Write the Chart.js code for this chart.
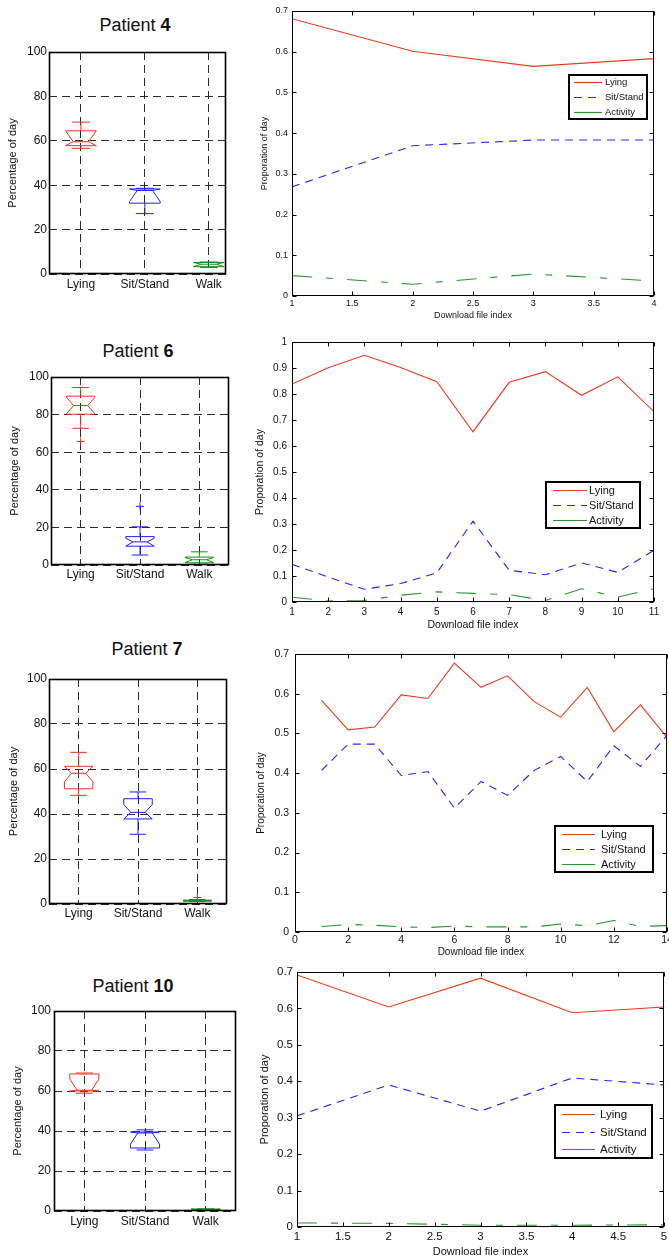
<!DOCTYPE html>
<html><head><meta charset="utf-8">
<script src="https://cdn.jsdelivr.net/npm/chart.js@4.4.1/dist/chart.umd.min.js"></script>
<style>
html,body{margin:0;padding:0;background:#fff;}
body{width:669px;height:1260px;position:relative;overflow:hidden;font-family:'Liberation Sans',Arial,sans-serif;}
canvas{position:absolute;}
.ttl{position:absolute;width:200px;text-align:center;font-size:18px;line-height:22px;color:#111;}
</style></head><body>
<div class="ttl" style="left:35px;top:14px">Patient <b>4</b></div>
<div class="ttl" style="left:38px;top:340px">Patient <b>6</b></div>
<div class="ttl" style="left:47px;top:638px">Patient <b>7</b></div>
<div class="ttl" style="left:33px;top:975px">Patient <b>10</b></div>
<script>
// ---------------- DATA ----------------
const categories = ['Lying', 'Sit/Stand', 'Walk'];
const seriesNames = ['Lying', 'Sit/Stand', 'Activity'];
const boxYTicks = [0, 20, 40, 60, 80, 100];

// Patient 4 (download files 1..4), proportion of day
const p4Files = [1, 2, 3, 4];
const p4Lying = [0.681, 0.601, 0.564, 0.583];
const p4Sit = [0.268, 0.369, 0.383, 0.383];
const p4Activity = [0.050, 0.029, 0.054, 0.037];
const p4XTicks = [1, 1.5, 2, 2.5, 3, 3.5, 4];
const p4YTicks = [0, 0.1, 0.2, 0.3, 0.4, 0.5, 0.6, 0.7];
// box stats (% of day): [whiskerLow, q1, notchLow, median, notchHigh, q3, whiskerHigh]
const p4BoxLying = [56.6, 57.8, 57.8, 59.6, 64.5, 64.5, 68.4];
const p4BoxSit = [27.2, 31.9, 32.6, 37.6, 38.3, 38.3, 38.6];
const p4BoxWalk = [2.9, 3.3, 3.3, 4.4, 5.2, 5.2, 5.4];
const p4Outliers = [[], [], []];

// Patient 6 (files 1..11)
const p6Files = [1, 2, 3, 4, 5, 6, 7, 8, 9, 10, 11];
const p6Lying = [0.838, 0.901, 0.949, 0.902, 0.847, 0.655, 0.845, 0.886, 0.795, 0.866, 0.732];
const p6Sit = [0.145, 0.096, 0.049, 0.071, 0.112, 0.311, 0.122, 0.105, 0.150, 0.114, 0.199];
const p6Activity = [0.018, 0.004, 0.006, 0.026, 0.039, 0.033, 0.028, 0.006, 0.051, 0.019, 0.051];
const p6XTicks = [1, 2, 3, 4, 5, 6, 7, 8, 9, 10, 11];
const p6YTicks = [0, 0.1, 0.2, 0.3, 0.4, 0.5, 0.6, 0.7, 0.8, 0.9, 1];
const p6BoxLying = [72.7, 80.2, 80.4, 84.8, 89.2, 89.8, 94.4];
const p6BoxSit = [5.3, 10.0, 10.0, 12.3, 14.2, 15.1, 20.3];
const p6BoxWalk = [0.4, 1.2, 1.3, 2.8, 4.0, 4.2, 7.0];
const p6Outliers = [[65.7], [31.2], []];

// Patient 7 (files 1..14)
const p7Files = [1, 2, 3, 4, 5, 6, 7, 8, 9, 10, 11, 12, 13, 14];
const p7Lying = [0.583, 0.509, 0.516, 0.597, 0.588, 0.677, 0.616, 0.645, 0.580, 0.541, 0.616, 0.504, 0.572, 0.490];
const p7Sit = [0.407, 0.473, 0.473, 0.394, 0.404, 0.312, 0.379, 0.344, 0.407, 0.442, 0.379, 0.469, 0.417, 0.495];
const p7Activity = [0.014, 0.019, 0.017, 0.013, 0.011, 0.015, 0.013, 0.013, 0.013, 0.020, 0.016, 0.029, 0.014, 0.016];
const p7XTicks = [0, 2, 4, 6, 8, 10, 12, 14];
const p7YTicks = [0, 0.1, 0.2, 0.3, 0.4, 0.5, 0.6, 0.7];
const p7BoxLying = [48.3, 51.2, 54.3, 58.1, 61.2, 61.2, 67.4];
const p7BoxSit = [31.0, 37.8, 37.8, 40.7, 44.2, 46.8, 49.8];
const p7BoxWalk = [1.1, 1.3, 1.3, 1.5, 1.65, 1.7, 2.0];
const p7Outliers = [[], [], [2.9]];

// Patient 10 (files 1..5)
const p10Files = [1, 2, 3, 4, 5];
const p10Lying = [0.692, 0.604, 0.683, 0.588, 0.604];
const p10Sit = [0.305, 0.390, 0.318, 0.409, 0.390];
const p10Activity = [0.011, 0.010, 0.005, 0.005, 0.006];
const p10XTicks = [1, 1.5, 2, 2.5, 3, 3.5, 4, 4.5, 5];
const p10YTicks = [0, 0.1, 0.2, 0.3, 0.4, 0.5, 0.6, 0.7];
const p10BoxLying = [58.9, 60.0, 60.0, 60.4, 66.0, 68.5, 69.0];
const p10BoxSit = [30.5, 31.5, 33.4, 39.0, 39.5, 39.5, 40.6];
const p10BoxWalk = [0.5, 0.5, 0.5, 0.6, 1.0, 1.0, 1.1];
const p10Outliers = [[], [], []];

// ---------------- STYLES ----------------
const FONT = "'Liberation Sans', Arial, sans-serif";
Chart.defaults.font.family = FONT;
const TXT = '#111';
const RED = '#ea3b1f', BLUE = '#2626ff', GREEN = '#2a962a';
const BOX_COLORS = ['#e8321e', '#1f1fff', '#1a8c1a'];
const LINE_STYLES = [
  {color: RED, dash: [], legendDash: []},
  {color: BLUE, dash: [8, 6], legendDash: [8, 6]},
  {color: GREEN, dash: [20, 14, 7, 14], legendDash: []}
];

// ---------------- PLUGINS ----------------
const framePlugin = {
  id: 'frame',
  afterDatasetsDraw(chart, args, o) {
    const ctx = chart.ctx, a = chart.chartArea;
    ctx.save();
    if (o.boxes) {
      ctx.beginPath(); ctx.rect(a.left, a.top, a.right - a.left, a.bottom - a.top); ctx.clip();
      const xs = chart.scales.x, ys = chart.scales.y;
      const X = v => xs.getPixelForValue(v), Y = v => ys.getPixelForValue(v);
      o.boxes.forEach((b, i) => {
        const [wl, q1, nl, md, nh, q3, wh] = b;
        const c = i + 1, hw = o.halfWidth, nw = hw * o.notch, cw = o.capHalf;
        const L = X(c - hw), R = X(c + hw), Ln = X(c - nw), Rn = X(c + nw), cx = X(c);
        ctx.strokeStyle = BOX_COLORS[i]; ctx.lineWidth = 1; ctx.setLineDash([]);
        ctx.beginPath();
        ctx.moveTo(L, Y(q1)); ctx.lineTo(L, Y(nl)); ctx.lineTo(Ln, Y(md)); ctx.lineTo(L, Y(nh)); ctx.lineTo(L, Y(q3));
        ctx.lineTo(R, Y(q3)); ctx.lineTo(R, Y(nh)); ctx.lineTo(Rn, Y(md)); ctx.lineTo(R, Y(nl)); ctx.lineTo(R, Y(q1));
        ctx.closePath(); ctx.stroke();
        ctx.beginPath();
        ctx.moveTo(Ln, Y(md)); ctx.lineTo(Rn, Y(md));
        ctx.moveTo(cx, Y(q3)); ctx.lineTo(cx, Y(wh));
        ctx.moveTo(cx, Y(q1)); ctx.lineTo(cx, Y(wl));
        ctx.moveTo(X(c - cw), Y(wh)); ctx.lineTo(X(c + cw), Y(wh));
        ctx.moveTo(X(c - cw), Y(wl)); ctx.lineTo(X(c + cw), Y(wl));
        ctx.stroke();
      });
    }
    ctx.restore();
  },
  afterDraw(chart, args, o) {
    const ctx = chart.ctx, a = chart.chartArea;
    ctx.save();
    ctx.strokeStyle = '#000'; ctx.lineWidth = o.frameWidth || 1; ctx.setLineDash([]);
    const L = Math.round(a.left) + 0.5, R = Math.round(a.right) - 0.5, T = Math.round(a.top) + 0.5, B = Math.round(a.bottom) - 0.5;
    ctx.strokeRect(L, T, R - L, B - T);
    if (o.tickLen) {
      ctx.lineWidth = 1;
      const tl = o.tickLen, xs = chart.scales.x, ys = chart.scales.y;
      ctx.beginPath();
      xs.ticks.forEach(t => {
        const p = Math.round(xs.getPixelForValue(t.value)) + 0.5;
        ctx.moveTo(p, B); ctx.lineTo(p, B - tl); ctx.moveTo(p, T); ctx.lineTo(p, T + tl);
      });
      ys.ticks.forEach(t => {
        const p = Math.round(ys.getPixelForValue(t.value)) + 0.5;
        ctx.moveTo(L, p); ctx.lineTo(L + tl, p); ctx.moveTo(R, p); ctx.lineTo(R - tl, p);
      });
      ctx.stroke();
    }
    if (o.legend) {
      const g = o.legend;
      ctx.fillStyle = '#fff';
      ctx.fillRect(g.x, g.y, g.w, g.h);
      ctx.strokeStyle = '#000'; ctx.lineWidth = 2;
      ctx.strokeRect(Math.round(g.x), Math.round(g.y), g.w, g.h);
      ctx.font = g.font + 'px ' + FONT;
      ctx.textBaseline = 'middle'; ctx.textAlign = 'left';
      seriesNames.forEach((name, i) => {
        const yy = Math.round(g.y + (i + 0.5) * g.h / 3) + 0.5;
        ctx.strokeStyle = LINE_STYLES[i].color; ctx.lineWidth = 1.2; ctx.setLineDash(LINE_STYLES[i].legendDash);
        ctx.beginPath(); ctx.moveTo(g.x + g.s0, yy); ctx.lineTo(g.x + g.s1, yy); ctx.stroke();
        ctx.setLineDash([]);
        ctx.fillStyle = TXT; ctx.fillText(name, g.x + g.tx, yy);
      });
    }
    ctx.restore();
  }
};

// ---------------- BUILDERS ----------------
function makeCanvas(c) {
  const el = document.createElement('canvas');
  el.width = c.w; el.height = c.h;
  el.style.left = c.x + 'px'; el.style.top = c.y + 'px';
  el.style.width = c.w + 'px'; el.style.height = c.h + 'px';
  document.body.appendChild(el);
  return el;
}
const fmt = v => String(+(+v).toFixed(2));

function baseScales(g, xTicks, yTicks, xMin, xMax, yMin, yMax, xLabelCb, grid) {
  const yW = g.area.l - g.canvas.x;
  const xH = g.canvas.y + g.canvas.h - g.area.b;
  const yTitlePad = g.yTitleX - g.canvas.x - g.yTitleFont * 1.2 / 2;
  const xTickPad = g.xTickY - g.area.b - g.tickFont * 1.2 / 2;
  const gridOpt = grid
    ? {display: true, color: '#2a2a2a', lineWidth: 1, drawTicks: false}
    : {display: false, drawTicks: false};
  const borderOpt = grid ? {display: false, dash: [8, 5]} : {display: false};
  const x = {
    type: 'linear', min: xMin, max: xMax,
    afterBuildTicks: s => { s.ticks = xTicks.map(v => ({value: v})); },
    afterFit: s => { s.height = xH; s.paddingLeft = 0; s.paddingRight = 0; s.paddingTop = 0; s.paddingBottom = 0; },
    ticks: {font: {size: g.tickFont}, color: TXT, padding: xTickPad, maxRotation: 0, autoSkip: false, callback: xLabelCb},
    grid: gridOpt, border: borderOpt,
    title: {display: false}
  };
  if (g.xTitle) {
    const xTitlePad = g.canvas.y + g.canvas.h - g.xTitleY - g.xTitleFont * 1.2 / 2;
    x.title = {display: true, text: g.xTitle, color: TXT, font: {size: g.xTitleFont}, padding: {top: 0, bottom: xTitlePad}};
  }
  const y = {
    type: 'linear', min: yMin, max: yMax,
    afterBuildTicks: s => { s.ticks = yTicks.map(v => ({value: v})); },
    afterFit: s => { s.width = yW; s.paddingLeft = 0; s.paddingRight = 0; s.paddingTop = 0; s.paddingBottom = 0; },
    ticks: {font: {size: g.tickFont}, color: TXT, padding: g.yTickPad, autoSkip: false, callback: fmt},
    grid: gridOpt, border: borderOpt,
    title: {display: true, text: g.yTitle, color: TXT, font: {size: g.yTitleFont}, padding: {top: yTitlePad, bottom: 0}}
  };
  return {x, y};
}

function layoutOpt(g) {
  return {padding: {left: 0, bottom: 0, top: g.area.t - g.canvas.y, right: g.canvas.x + g.canvas.w - g.area.r}};
}

function boxChart(g, boxes, outliers) {
  const el = makeCanvas(g.canvas);
  const datasets = outliers.map((arr, i) => ({
    data: arr.map(v => ({x: i + 1, y: v})),
    pointStyle: 'cross', pointRadius: 4, pointBorderColor: BOX_COLORS[i], pointBorderWidth: 1,
    borderColor: BOX_COLORS[i], showLine: false
  }));
  new Chart(el, {
    type: 'scatter',
    data: {datasets},
    options: {
      responsive: false, animation: false, devicePixelRatio: 1,
      layout: layoutOpt(g),
      plugins: {legend: {display: false}, tooltip: {enabled: false},
        frame: {boxes, halfWidth: 0.24, notch: 0.5, capHalf: 0.14, frameWidth: 1.6}},
      scales: baseScales(g, [1, 2, 3], boxYTicks, 0.5, g.xMax || 3.5, 0, 100,
        v => categories[Math.round(v) - 1], true)
    },
    plugins: [framePlugin]
  });
}

function lineChart(g, files, series, xTicks, yTicks, yMax) {
  const el = makeCanvas(g.canvas);
  const datasets = series.map((vals, i) => ({
    label: seriesNames[i],
    data: vals.map((v, k) => ({x: files[k], y: v})),
    borderColor: LINE_STYLES[i].color, borderDash: LINE_STYLES[i].dash,
    borderWidth: 1.1, pointRadius: 0, tension: 0, fill: false
  }));
  const lg = g.legend;
  new Chart(el, {
    type: 'line',
    data: {datasets},
    options: {
      responsive: false, animation: false, devicePixelRatio: 1,
      layout: layoutOpt(g),
      plugins: {legend: {display: false}, tooltip: {enabled: false},
        frame: {tickLen: 4, frameWidth: 1, legend: {x: lg.x - g.canvas.x, y: lg.y - g.canvas.y, w: lg.w, h: lg.h, s0: lg.s0, s1: lg.s1, tx: lg.tx, font: lg.font}}},
      scales: baseScales(g, xTicks, yTicks, xTicks[0], xTicks[xTicks.length - 1], 0, yMax, fmt, false)
    },
    plugins: [framePlugin]
  });
}

// ---------------- PANELS ----------------
const boxCommon = {yTitle: 'Percentage of day', yTitleFont: 11, tickFont: 12, yTickPad: 2};
const lineTitles = {yTitle: 'Proporation of day', xTitle: 'Download file index'};

boxChart(Object.assign({}, boxCommon, {canvas: {x: 0, y: 38, w: 240, h: 262}, area: {l: 49, t: 52, r: 226, b: 274}, yTitleX: 13, xTickY: 285, xMax: 3.27}),
  [p4BoxLying, p4BoxSit, p4BoxWalk], p4Outliers);
boxChart(Object.assign({}, boxCommon, {canvas: {x: 0, y: 364, w: 240, h: 230}, area: {l: 51, t: 377, r: 229, b: 565}, yTitleX: 15, xTickY: 575}),
  [p6BoxLying, p6BoxSit, p6BoxWalk], p6Outliers);
boxChart(Object.assign({}, boxCommon, {canvas: {x: 0, y: 665, w: 240, h: 265}, area: {l: 49, t: 679, r: 227, b: 904}, yTitleX: 14, xTickY: 914}),
  [p7BoxLying, p7BoxSit, p7BoxWalk], p7Outliers);
boxChart(Object.assign({}, boxCommon, {canvas: {x: 0, y: 998, w: 240, h: 240}, area: {l: 54, t: 1011, r: 236, b: 1211}, yTitleX: 18, xTickY: 1222, yTickPad: 3}),
  [p10BoxLying, p10BoxSit, p10BoxWalk], p10Outliers);

lineChart(Object.assign({}, lineTitles, {canvas: {x: 240, y: 0, w: 429, h: 325}, area: {l: 292, t: 11, r: 654, b: 296},
  tickFont: 9, yTickPad: 4, yTitleFont: 9, yTitleX: 265, xTickY: 304, xTitleFont: 9, xTitleY: 316,
  legend: {x: 569, y: 75, w: 78, h: 44, s0: 5, s1: 33, tx: 36, font: 9.5}}),
  p4Files, [p4Lying, p4Sit, p4Activity], p4XTicks, p4YTicks, 0.7);
lineChart(Object.assign({}, lineTitles, {canvas: {x: 240, y: 330, w: 429, h: 305}, area: {l: 292, t: 342, r: 654, b: 602},
  tickFont: 10, yTickPad: 5, yTitleFont: 10.5, yTitleX: 260, xTickY: 612, xTitleFont: 10.5, xTitleY: 625,
  legend: {x: 546, y: 482, w: 94, h: 46, s0: 7, s1: 41, tx: 43, font: 11}}),
  p6Files, [p6Lying, p6Sit, p6Activity], p6XTicks, p6YTicks, 1);
lineChart(Object.assign({}, lineTitles, {canvas: {x: 240, y: 640, w: 429, h: 320}, area: {l: 295, t: 654, r: 667, b: 932},
  tickFont: 10.5, yTickPad: 6, yTitleFont: 10, yTitleX: 261, xTickY: 940, xTitleFont: 10, xTitleY: 952,
  legend: {x: 555, y: 826, w: 98, h: 46, s0: 7, s1: 40, tx: 46, font: 11}}),
  p7Files, [p7Lying, p7Sit, p7Activity], p7XTicks, p7YTicks, 0.7);
lineChart(Object.assign({}, lineTitles, {canvas: {x: 240, y: 962, w: 429, h: 298}, area: {l: 297, t: 972, r: 664, b: 1227},
  tickFont: 11.5, yTickPad: 4, yTitleFont: 11, yTitleX: 265, xTickY: 1237, xTitleFont: 11, xTitleY: 1252,
  legend: {x: 555, y: 1105, w: 97, h: 53, s0: 7, s1: 40, tx: 45, font: 11.5}}),
  p10Files, [p10Lying, p10Sit, p10Activity], p10XTicks, p10YTicks, 0.7);
</script>
</body></html>
